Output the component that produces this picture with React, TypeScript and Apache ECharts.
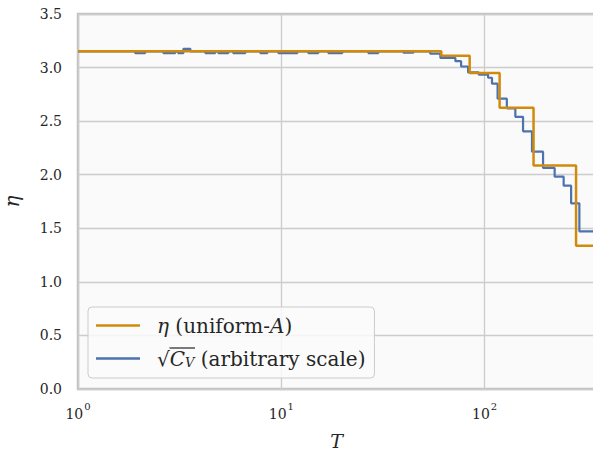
import React, { useEffect, useRef } from "react";
import * as echarts from "echarts";

// η (uniform-A): step values, each value holds from its T until the next T
const etaT = [1, 61.2, 84.4, 118.5, 174, 281.6, 349];
const etaV = [3.152, 3.11, 2.95, 2.624, 2.085, 1.338, 1.338];

// sqrt(C_V) (arbitrary scale)
const cvT = [
  1, 1.91, 2.14, 2.63, 3.01, 3.11, 3.3, 3.57, 4.23, 4.73, 4.9, 5.49, 5.8, 6.65,
  7.88, 8.54, 9.67, 11.99, 13.58, 15.21, 17.04, 19.96, 26.8, 30.0, 39.8, 44.7,
  54, 60.6, 71.8, 76.6, 82.9, 93.5, 104, 108.7, 115.8, 128.6, 141.6, 154.5, 171,
  193.8, 221, 244.7, 266.3, 292.4, 349,
];
const cvV = [
  3.15, 3.135, 3.15, 3.135, 3.15, 3.135, 3.175, 3.15, 3.135, 3.15, 3.135, 3.15,
  3.135, 3.15, 3.135, 3.15, 3.135, 3.15, 3.135, 3.15, 3.135, 3.15, 3.135, 3.15,
  3.14, 3.15, 3.13, 3.09, 3.06, 3.01, 2.955, 2.935, 2.905, 2.85, 2.71, 2.62,
  2.54, 2.405, 2.215, 2.063, 1.982, 1.898, 1.733, 1.472, 1.472,
];

const yTicks = ["0.0", "0.5", "1.0", "1.5", "2.0", "2.5", "3.0", "3.5"];

const ORANGE = "#D18B0C";
const BLUE = "#4C72B0";
const SERIF = "'DejaVu Serif', serif";

export default function App() {
  const ref = useRef<HTMLDivElement>(null);
  useEffect(() => {
    if (!ref.current) return;
    const chart = echarts.init(ref.current, null, { renderer: "svg" });
    const etaData = etaT.map((t, i) => [t, etaV[i]]);
    const cvData = cvT.map((t, i) => [t, cvV[i]]);
    chart.setOption({
      animation: false,
      backgroundColor: "#ffffff",
      grid: {
        left: 78,
        top: 14,
        right: -2,
        bottom: 63,
        containLabel: false,
        outerBoundsMode: "none",
        show: true,
        backgroundColor: "#fafafa",
        borderColor: "#c2c2c2",
        borderWidth: 2.5,
      },
      xAxis: {
        type: "log",
        logBase: 10,
        min: 1,
        max: 349,
        name: "T",
        nameLocation: "middle",
        nameGap: 42,
        nameTextStyle: {
          fontFamily: SERIF,
          fontStyle: "italic",
          fontSize: 19,
          lineHeight: 20,
          color: "#262626",
        },
        axisLine: { show: false },
        axisTick: { show: false },
        minorTick: { show: false },
        splitLine: { show: true, lineStyle: { color: "#cccccc", width: 1.3 } },
        axisLabel: {
          margin: 12,
          showMaxLabel: false,
          formatter: (v: number) => `{b|10}{s|${Math.round(Math.log10(v))}}`,
          rich: {
            b: { fontFamily: SERIF, fontSize: 14, color: "#262626", lineHeight: 20, verticalAlign: "bottom" },
            s: { fontFamily: SERIF, fontSize: 10, color: "#262626", lineHeight: 20, verticalAlign: "top", padding: [0, 0, 6, 1] },
          },
        },
      },
      yAxis: {
        type: "value",
        min: 0,
        max: 3.5,
        interval: 0.5,
        name: "η",
        nameLocation: "middle",
        nameRotate: 90,
        nameGap: 56,
        nameTextStyle: {
          fontFamily: SERIF,
          fontStyle: "italic",
          fontSize: 20,
          color: "#262626",
        },
        axisLine: { show: false },
        axisTick: { show: false },
        splitLine: { show: true, lineStyle: { color: "#cccccc", width: 1.3 } },
        axisLabel: {
          margin: 16,
          fontFamily: SERIF,
          fontSize: 14,
          color: "#262626",
          formatter: (v: number) => yTicks[Math.round(v / 0.5)] ?? v.toFixed(1),
        },
      },
      legend: {
        show: true,
        orient: "vertical",
        left: 88,
        top: 307,
        data: ["eta", "cv"],
        icon: "rect",
        itemWidth: 44,
        itemHeight: 2.5,
        itemGap: 12,
        padding: [8, 9, 9, 8],
        backgroundColor: "rgba(250,250,250,0.85)",
        borderColor: "#cccccc",
        borderWidth: 1,
        borderRadius: 4,
        formatter: (name: string) =>
          name === "eta"
            ? "{sp|}{i|η} (uniform-{i|A})"
            : "{sp|}√{i|C}{sub|V} (arbitrary scale)",
        textStyle: {
          fontFamily: SERIF,
          fontSize: 20,
          color: "#262626",
          lineHeight: 21,
          rich: {
            sp: { width: 12 },
            i: { fontFamily: SERIF, fontStyle: "italic", fontSize: 20, color: "#262626", lineHeight: 21 },
            sub: { fontFamily: SERIF, fontStyle: "italic", fontSize: 13, color: "#262626", lineHeight: 21, verticalAlign: "bottom", padding: [7, 0, 0, 0] },
          },
        },
      },
      graphic: [
        {
          type: "line",
          z: 100,
          shape: { x1: 169.5, y1: 348, x2: 195, y2: 348 },
          style: { stroke: "#262626", lineWidth: 1.2 },
        },
      ],
      series: [
        {
          name: "cv",
          type: "line",
          step: "end",
          data: cvData,
          showSymbol: false,
          symbol: "none",
          itemStyle: { color: BLUE },
          lineStyle: { color: BLUE, width: 2.2 },
          z: 2,
        },
        {
          name: "eta",
          type: "line",
          step: "end",
          data: etaData,
          showSymbol: false,
          symbol: "none",
          itemStyle: { color: ORANGE },
          lineStyle: { color: ORANGE, width: 2.5 },
          z: 3,
        },
      ],
    });
    return () => chart.dispose();
  }, []);
  return <div ref={ref} style={{ width: 593, height: 452, position: "absolute", left: 0, top: 0 }} />;
}
